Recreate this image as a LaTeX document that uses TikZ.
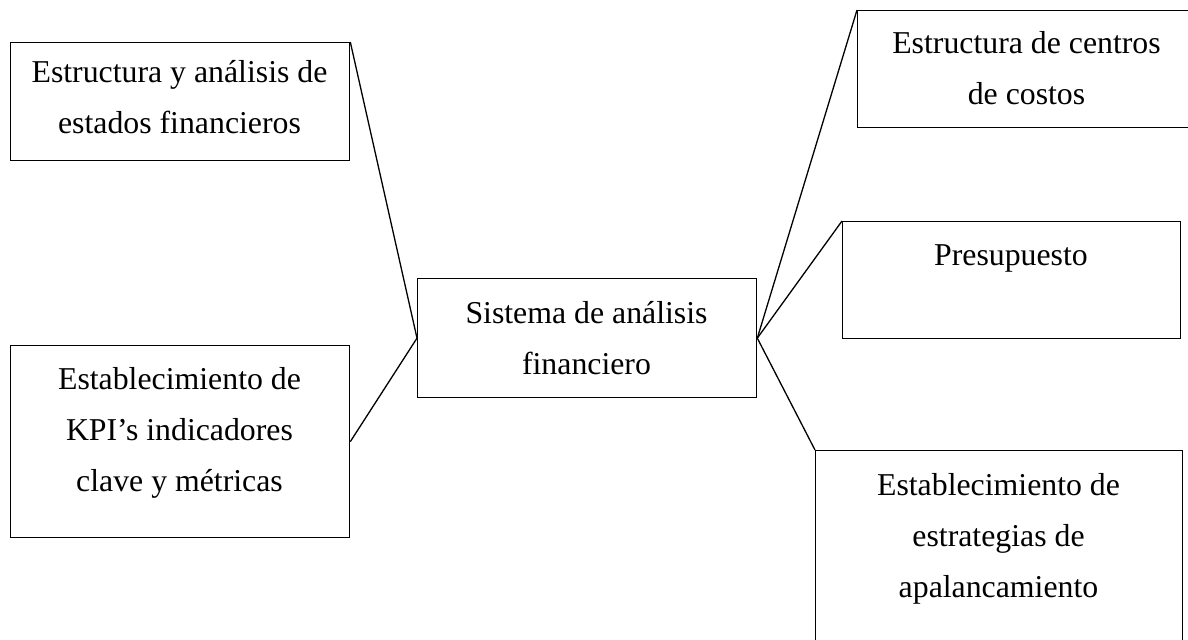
\documentclass[tikz,border=0pt]{standalone}
\usepackage{fontspec}
\setmainfont{Liberation Serif}
\newcommand{\fst}{\rule{0pt}{12pt}}
\begin{document}
\begin{tikzpicture}[x=0.5pt,y=-0.5pt,
  box/.style={draw,line width=0.65pt,rectangle,inner sep=0pt,anchor=north west},
  lbl/.style={align=center,inner sep=0pt,anchor=north,font=\fontsize{15.9pt}{25.5pt}\selectfont},
  link/.style={line width=0.65pt}]
\useasboundingbox (0,0) rectangle (1188,640);
\fill[white] (0,0) rectangle (1188,640);
\clip (0,0) rectangle (1188,640);
% boxes
\node[box,minimum width=169.5pt,minimum height=59pt] (A) at (10,42) {};
\node[box,minimum width=169.5pt,minimum height=96pt] (B) at (10,345) {};
\node[box,minimum width=169.5pt,minimum height=59.5pt] (C) at (417,278) {};
\node[box,minimum width=169.5pt,minimum height=58.5pt] (D) at (857,10) {};
\node[box,minimum width=169pt,minimum height=58.5pt] (E) at (842,221) {};
\node[box,minimum width=183.5pt,minimum height=110pt] (F) at (815,450) {};
% texts
\node[lbl] (At) at (179.5,58) {\fst Estructura y análisis de\\estados financieros};
\node[lbl] (Bt) at (179.5,365) {\fst Establecimiento de\\KPI’s indicadores\\clave y métricas};
\node[lbl] (Ct) at (586.5,299) {\fst Sistema de análisis\\financiero};
\node[lbl] (Dt) at (1026.5,29) {\fst Estructura de centros\\de costos};
\node[lbl] (Et) at (1011,241) {\fst Presupuesto};
\node[lbl] (Ft) at (998.5,471) {\fst Establecimiento de\\estrategias de\\apalancamiento};
% connectors
\draw[link] (A.north east) -- (C.west);
\draw[link] (B.east) -- (C.west);
\draw[link] (C.east) -- (D.north west);
\draw[link] (C.east) -- (E.north west);
\draw[link] (C.east) -- (F.north west);
\end{tikzpicture}
\end{document}
